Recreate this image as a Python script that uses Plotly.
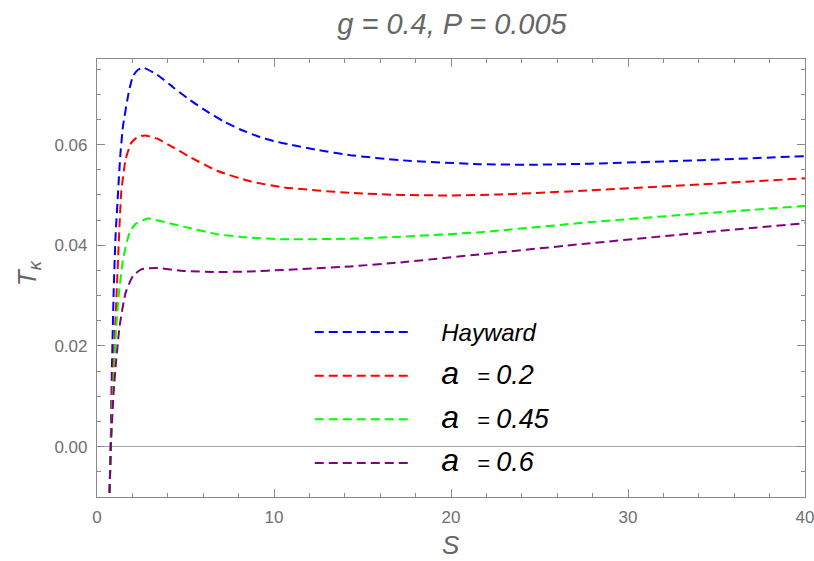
import plotly.graph_objects as go

# Data
s_hay = [0.69, 0.77, 0.84, 0.94, 1.05, 1.19, 1.32, 1.47, 1.79, 2.03, 2.3, 2.6, 3.39, 4.33, 5.27, 6.21, 7.15, 8.1, 9.04, 9.98, 10.92, 12.5, 14.31, 17.14, 21.66, 24.5, 27.87, 34.1, 40.0]
t_hay = [-0.012, 0.0, 0.015, 0.0306, 0.042, 0.0505, 0.058, 0.0637, 0.0703, 0.0736, 0.0748, 0.0753, 0.0739, 0.0713, 0.0688, 0.0666, 0.0646, 0.0630, 0.0617, 0.0607, 0.0600, 0.0589, 0.0579, 0.0569, 0.0561, 0.0560, 0.0562, 0.0569, 0.0577]

s_a02 = [0.69, 0.78, 0.86, 1.03, 1.19, 1.37, 1.62, 1.94, 2.3, 2.7, 3.39, 4.33, 5.27, 6.78, 8.66, 10.54, 14.31, 17.14, 20.0, 22.79, 27.87, 34.1, 40.0]
t_a02 = [-0.012, 0.0, 0.012, 0.024, 0.0372, 0.0505, 0.0571, 0.0604, 0.0615, 0.0618, 0.0612, 0.0594, 0.0575, 0.0548, 0.0527, 0.0515, 0.0504, 0.0500, 0.0499, 0.0501, 0.0509, 0.0521, 0.0533]

s_a045 = [0.69, 0.78, 0.9, 1.09, 1.24, 1.47, 1.84, 2.2, 2.9, 3.73, 4.89, 6.78, 8.66, 10.54, 14.31, 17.14, 21.66, 27.87, 34.1, 40.0]
t_a045 = [-0.012, 0.0, 0.0108, 0.024, 0.0306, 0.0372, 0.0425, 0.0443, 0.0453, 0.0447, 0.0437, 0.0422, 0.0415, 0.0412, 0.0413, 0.0417, 0.0426, 0.0446, 0.0463, 0.0478]

s_a06 = [0.69, 0.78, 0.94, 1.09, 1.28, 1.62, 2.03, 2.5, 3.35, 4.89, 6.78, 8.66, 10.54, 14.31, 17.14, 21.66, 27.87, 34.1, 40.0]
t_a06 = [-0.012, 0.0, 0.0108, 0.0174, 0.024, 0.0306, 0.0339, 0.0352, 0.0355, 0.0349, 0.0347, 0.0348, 0.0351, 0.0358, 0.0366, 0.0382, 0.0404, 0.0425, 0.0444]

x_ticks = [0, 10, 20, 30, 40]
y_ticks = [0.0, 0.02, 0.04, 0.06]
y_tick_text = ["0.00", "0.02", "0.04", "0.06"]

pad = "\u00a0" * 4
big = "<span style='font-size:32px'><i>a</i></span>"
def alabel(v):
    return pad + big + "\u00a0\u00a0 = <span style='font-size:27px'><i>" + v + "</i></span>"
names = [pad + "<span style='font-size:24px'><i>Hayward</i></span>", alabel("0.2"), alabel("0.45"), alabel("0.6")]
colors = ["rgb(0,0,255)", "rgb(255,0,0)", "rgb(0,255,0)", "rgb(128,0,128)"]
series = [(s_hay, t_hay), (s_a02, t_a02), (s_a045, t_a045), (s_a06, t_a06)]

fig = go.Figure()
for i, ((sx, ty), nm, col) in enumerate(zip(series, names, colors)):
    fig.add_trace(go.Scatter(
        x=sx, y=ty, mode="lines", name=nm, legendgroup=f"g{i}",
        line=dict(color=col, width=2, dash="9px,5px", shape="spline", smoothing=0.5),
    ))
# empty trace so the mirrored tick axes are drawn
fig.add_trace(go.Scatter(x=[], y=[], xaxis="x2", yaxis="y2", showlegend=False, hoverinfo="skip"))

gray = "#8a8a8a"
lblfont = dict(family="Liberation Sans", size=17, color="#707070")

fig.update_layout(
    width=814, height=561,
    margin=dict(l=97, r=9, t=59, b=64),
    plot_bgcolor="white", paper_bgcolor="white",
    title=dict(text="<i>g = 0.4, P = 0.005</i>", x=0.5553, xanchor="center", y=0.976, yanchor="top",
               font=dict(family="Liberation Sans", size=29, color="#666666")),
    showlegend=True,
    legend=dict(x=0.3005, y=0.424, xanchor="left", yanchor="top", bgcolor="rgba(0,0,0,0)",
                font=dict(family="Liberation Sans", size=22, color="black"),
                itemwidth=97, tracegroupgap=12, traceorder="grouped"),
    xaxis=dict(range=[0, 40], tickvals=x_ticks, automargin=False, showgrid=False, zeroline=False,
               showline=True, linecolor=gray, linewidth=1.2, mirror=True,
               ticks="inside", ticklen=8, tickcolor=gray, tickfont=lblfont, ticklabelstandoff=4,
               ticklabeloverflow="allow",
               minor=dict(dtick=2, ticks="inside", ticklen=4, tickcolor=gray)),
    yaxis=dict(range=[-0.01, 0.077], tickvals=y_ticks, ticktext=y_tick_text, automargin=False,
               showgrid=False, zeroline=True, zerolinecolor="#a8a8a8", zerolinewidth=1.2,
               showline=True, linecolor=gray, linewidth=1.2, mirror=True,
               ticks="inside", ticklen=8, tickcolor=gray, tickfont=lblfont, ticklabelstandoff=5,
               minor=dict(dtick=0.005, ticks="inside", ticklen=4, tickcolor=gray)),
    xaxis2=dict(overlaying="x", side="top", matches="x", tickvals=x_ticks, showticklabels=False,
                showgrid=False, zeroline=False, automargin=False,
                ticks="inside", ticklen=8, tickcolor=gray,
                minor=dict(dtick=2, ticks="inside", ticklen=4, tickcolor=gray)),
    yaxis2=dict(overlaying="y", side="right", matches="y", tickvals=y_ticks, showticklabels=False,
                showgrid=False, zeroline=False, automargin=False,
                ticks="inside", ticklen=8, tickcolor=gray,
                minor=dict(dtick=0.005, ticks="inside", ticklen=4, tickcolor=gray)),
    annotations=[
        dict(text="<i>S</i>", xref="paper", yref="paper", x=0.5, y=-0.11, xanchor="center", yanchor="middle",
             showarrow=False, font=dict(family="Liberation Sans", size=26, color="#666666")),
        dict(text="<i>T</i><sub><i>κ</i></sub>", xref="paper", yref="paper", x=-0.0975, y=0.511,
             xanchor="center", yanchor="middle", textangle=-90,
             showarrow=False, font=dict(family="Liberation Sans", size=26, color="#666666")),
    ],
)

# remove the default 8px page margin so the figure fills the window exactly
fig.write_html("out.html", config={"displayModeBar": False},
               post_script="document.body.style.margin='0';document.body.style.overflow='hidden';")
